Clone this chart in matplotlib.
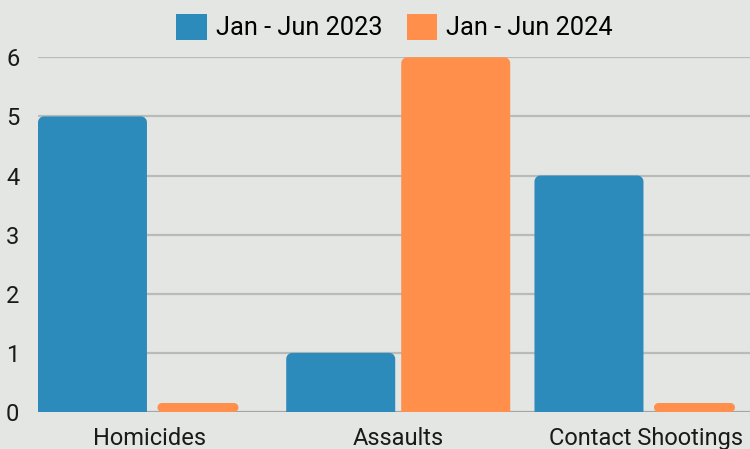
import matplotlib
matplotlib.use("Agg")
import matplotlib.pyplot as plt
from matplotlib.path import Path
from matplotlib.patches import PathPatch, Patch

categories = ["Homicides", "Assaults", "Contact Shootings"]
series_names = ["Jan - Jun 2023", "Jan - Jun 2024"]
values_2023 = [5, 1, 4]
values_2024 = [0, 6, 0]
y_ticks = [0, 1, 2, 3, 4, 5, 6]

BLUE = "#2d8bbc"
ORANGE = "#ff8f4b"
BG = "#e3e6e3"
GRID = "#b9bbb8"
FONT = ["Roboto", "DejaVu Sans"]

plt.rcParams["font.family"] = FONT

W, H = 750, 449
fig = plt.figure(figsize=(W / 100, H / 100), dpi=100, facecolor=BG)
ax = fig.add_axes([38 / W, (H - 412) / H, 712 / W, (412 - 57.3) / H])
ax.set_facecolor(BG)

xmin, xmax = -0.451, 2.417
ax.set_xlim(xmin, xmax)
ax.set_ylim(0, 6)
px_x = 712 / (xmax - xmin)
px_y = (412 - 57.3) / 6

bar_w = 109 / px_x
offset = 115 / 2 / px_x


def rounded_path(x0, y0, w, h, rx, ry, top_only=True):
    k = 0.5523
    x1, y1 = x0 + w, y0 + h
    if top_only:
        verts = [(x0, y0), (x1, y0), (x1, y1 - ry),
                 (x1, y1 - ry + k * ry), (x1 - rx + k * rx, y1), (x1 - rx, y1),
                 (x0 + rx, y1),
                 (x0 + rx - k * rx, y1), (x0, y1 - ry + k * ry), (x0, y1 - ry),
                 (x0, y0)]
        codes = [Path.MOVETO, Path.LINETO, Path.LINETO,
                 Path.CURVE4, Path.CURVE4, Path.CURVE4,
                 Path.LINETO,
                 Path.CURVE4, Path.CURVE4, Path.CURVE4,
                 Path.CLOSEPOLY]
    else:
        verts = [(x0 + rx, y0), (x1 - rx, y0),
                 (x1 - rx + k * rx, y0), (x1, y0 + ry - k * ry), (x1, y0 + ry),
                 (x1, y1 - ry),
                 (x1, y1 - ry + k * ry), (x1 - rx + k * rx, y1), (x1 - rx, y1),
                 (x0 + rx, y1),
                 (x0 + rx - k * rx, y1), (x0, y1 - ry + k * ry), (x0, y1 - ry),
                 (x0, y0 + ry),
                 (x0, y0 + ry - k * ry), (x0 + rx - k * rx, y0), (x0 + rx, y0),
                 (x0 + rx, y0)]
        codes = [Path.MOVETO, Path.LINETO,
                 Path.CURVE4, Path.CURVE4, Path.CURVE4,
                 Path.LINETO,
                 Path.CURVE4, Path.CURVE4, Path.CURVE4,
                 Path.LINETO,
                 Path.CURVE4, Path.CURVE4, Path.CURVE4,
                 Path.LINETO,
                 Path.CURVE4, Path.CURVE4, Path.CURVE4,
                 Path.CLOSEPOLY]
    return Path(verts, codes)


ax.set_yticks(y_ticks)
ax.yaxis.grid(True, color=GRID, linewidth=1.6, zorder=0)
ax.set_axisbelow(True)

stub_h = 9 / px_y
stub_w = 81 / px_x
for series, color, sign in [(values_2023, BLUE, -1), (values_2024, ORANGE, 1)]:
    for i, v in enumerate(series):
        cx = i + sign * offset
        x0 = cx - bar_w / 2
        if v > 0:
            p = rounded_path(x0, 0, bar_w, v, 6 / px_x, 6 / px_y, top_only=True)
        else:
            sx = x0 + 4.5 / px_x
            p = rounded_path(sx, 0, stub_w, stub_h, 4.5 / px_x, 4.5 / px_y, top_only=False)
        ax.add_patch(PathPatch(p, facecolor=color, edgecolor="none", zorder=3))

ax.axhline(0, color="#a4a6a3", linewidth=2.2, zorder=2)

for s in ax.spines.values():
    s.set_visible(False)
ax.set_xticks(range(len(categories)))
ax.set_xticklabels(categories)
ax.tick_params(axis="both", length=0, labelsize=17, colors="#1a1a1a")
ax.tick_params(axis="x", pad=11)
ax.tick_params(axis="y", pad=13.5)

handles = [Patch(facecolor=BLUE, edgecolor="none"), Patch(facecolor=ORANGE, edgecolor="none")]
fig.legend(handles, series_names, loc="center", bbox_to_anchor=(394.5 / W, 1 - 27 / H),
           ncol=2, frameon=False, fontsize=18.3, handlelength=1.2, handleheight=1.25,
           handletextpad=0.35, columnspacing=0.95, borderaxespad=0, borderpad=0)

fig.savefig("out.png", dpi=100, facecolor=BG)
